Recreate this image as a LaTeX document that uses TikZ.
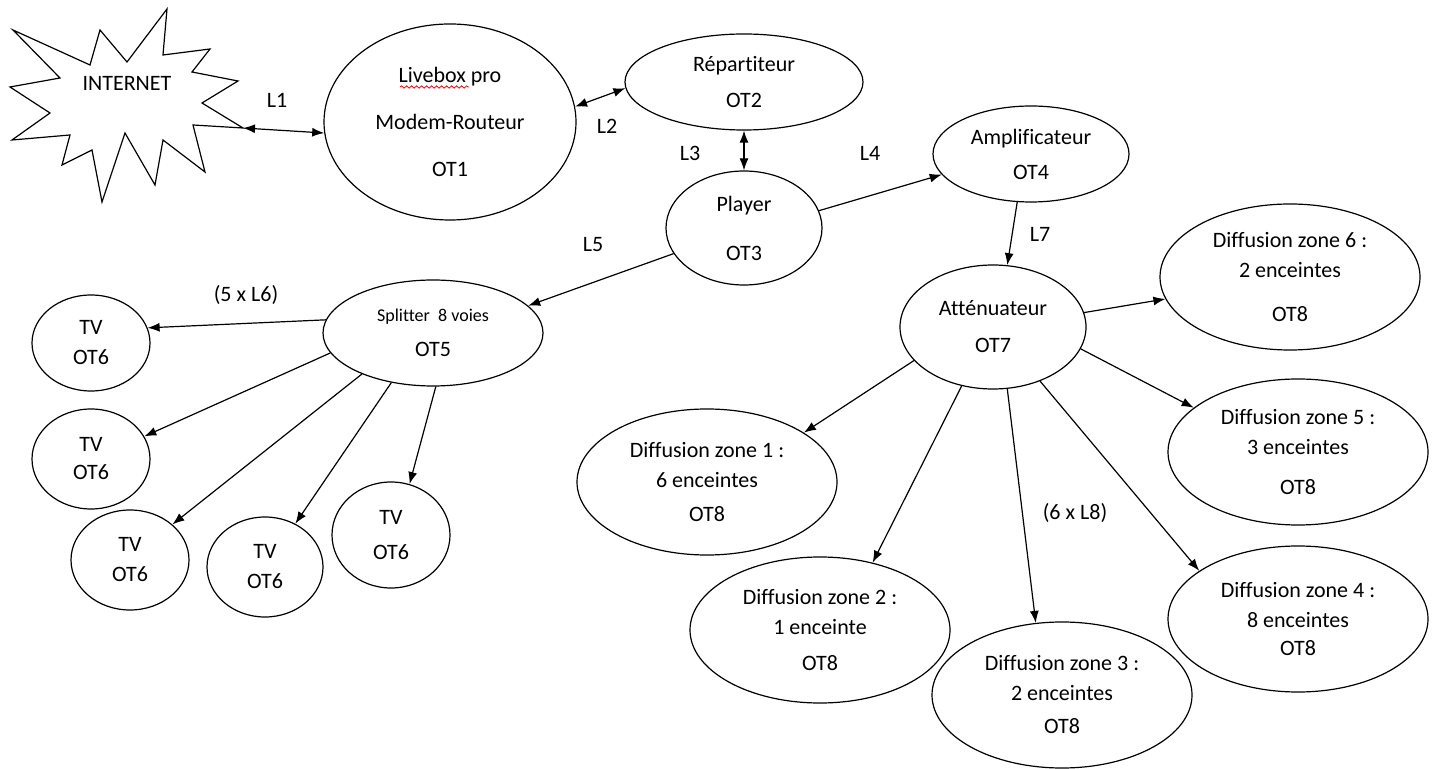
\documentclass[tikz,border=0pt]{standalone}
\usepackage{fontspec}
\setmainfont{Carlito}[Ligatures=NoCommon]
\usetikzlibrary{shapes.geometric,arrows.meta,decorations.pathmorphing}

\begin{document}
\begin{tikzpicture}[x=0.5pt,y=-0.5pt,line width=0.6pt,>={Latex[length=6pt,width=4.5pt]}]
    \tikzstyle{unit}=[ellipse,draw=black,fill=white,inner sep=0pt,align=center,font=\fontsize{11}{15}\selectfont]
    \tikzstyle{lbl}=[font=\fontsize{11}{13}\selectfont,inner sep=1pt]
    \useasboundingbox (0,0) rectangle (1434,769);

    % nuage internet
    \draw (13,30) -- (90,65) -- (100,30) -- (127,62) -- (167,9) -- (163,55) -- (210,49) -- (192,72)
        -- (238,81) -- (202,103) -- (243,128) -- (193,125) -- (205,172) -- (163,140) -- (155,185)
        -- (125,133) -- (102,202) -- (92,150) -- (62,165) -- (70,135) -- (12,140) -- (50,113)
        -- (10,87) -- (60,78) -- cycle;
    \coordinate (net) at (243,128);
    \node[lbl] (internet) at (127,83) {INTERNET};

    \node[unit,minimum width=126pt,minimum height=98pt] (modem) at (450,122) {Livebox pro\\[8.5pt]Modem-Routeur\\[8.5pt]OT1};
    \node[unit,minimum width=119pt,minimum height=48pt] (repart) at (744,82) {Répartiteur\\[3pt]OT2};
    \node[unit,minimum width=78pt,minimum height=57pt] (player) at (744,228) {Player\\[9.5pt]OT3};
    \node[unit,minimum width=98pt,minimum height=48pt] (ampli) at (1031,154) {Amplificateur\\[2.5pt]OT4};
    \node[unit,minimum width=93pt,minimum height=62pt] (attenu) at (993,327) {Atténuateur\\[3.5pt]OT7};
    \node[unit,minimum width=110pt,minimum height=53pt,font=\fontsize{9}{15}\selectfont] (splitter) at (433,333)
        {Splitter~~8 voies\\[2.5pt]{\fontsize{11}{15}\selectfont OT5}};

    % soulignement correcteur
    \draw[red,line width=0.4pt,decorate,decoration={snake,amplitude=0.6pt,segment length=2.5pt}] (400,87) -- (469,87);

    \foreach \num/\x/\y/\w/\h/\s in {1/91/343/59pt/48pt/0pt, 2/91/459/59pt/50pt/-1pt, 3/130/560/59pt/50pt/0pt,
                                     4/265/567/58pt/50pt/0pt, 5/391/535/59pt/53pt/2.5pt}
        \node[unit,minimum width=\w,minimum height=\h] (TV-\num) at (\x,\y) {TV\\[\s]OT6};

    \foreach \num/\x/\y/\n/\s in {1/707/482/6 enceintes/2pt, 2/820/630/1 enceinte/3pt, 3/1062/695/2 enceintes/1.5pt,
                                  4/1298/619/8 enceintes/-1pt, 5/1298/452/3 enceintes/5pt, 6/1290/277/2 enceintes/7pt}
        \node[unit,minimum width=130pt,minimum height=73pt] (Z-\num) at (\x,\y) {Diffusion zone \num\ :\\\n\\[\s]OT8};

    \draw[<->] (net) -- (modem.185);
    \draw[<->] (modem.7) -- (repart.183);
    \draw[<->] (repart.south) -- (player.north);
    \draw[->] (player.13) -- (ampli.193);
    \draw[->] (player.200) -- (splitter.16);
    \draw[->] (ampli.254) -- (attenu.77);

    \foreach \a/\num/\b in {173/1/15, 191/2/23, 210/3/40, 230/4/55, 273/5/70}
        \draw[->] (splitter.\a) -- (TV-\num.\b);

    \foreach \a/\num/\b in {9/6/190, 346/5/157, 311/4/154, 283/3/110, 242/2/52, 203/1/27}
        \draw[->] (attenu.\a) -- (Z-\num.\b);

    \node[lbl] (L-1) at (277,100) {L1};
    \node[lbl] (L-2) at (607,126) {L2};
    \node[lbl] (L-3) at (690,153) {L3};
    \node[lbl] (L-4) at (870,153) {L4};
    \node[lbl] (L-5) at (593,245) {L5};
    \node[lbl] (L-6) at (246,295) {(5 x L6)};
    \node[lbl] (L-7) at (1040,234) {L7};
    \node[lbl] (L-8) at (1075,513) {(6 x L8)};
\end{tikzpicture}
\end{document}
